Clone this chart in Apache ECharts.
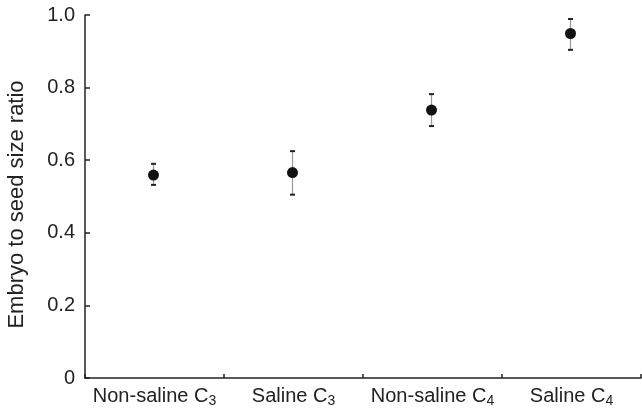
<!DOCTYPE html>
<html><head><meta charset="utf-8">
<script src="https://cdn.jsdelivr.net/npm/echarts@6/dist/echarts.min.js"></script>
<style>html,body{margin:0;padding:0;background:#fff}#c{width:642px;height:413px}</style>
</head><body><div id="c"></div>
<script>
var categories = [['Non-saline C', '3'], ['Saline C', '3'], ['Non-saline C', '4'], ['Saline C', '4']];
var means = [0.559, 0.566, 0.738, 0.949];
var upper = [0.590, 0.625, 0.782, 0.989];
var lower = [0.532, 0.505, 0.694, 0.904];
var yTicks = [0, 0.2, 0.4, 0.6, 0.8, 1.0];

var catNames = categories.map(function (c) { return c[0] + c[1]; });
var subMap = {};
categories.forEach(function (c) { subMap[c[0] + c[1]] = c; });

var chart = echarts.init(document.getElementById('c'));
var font = 'Liberation Sans, Arial, sans-serif';
chart.setOption({
  animation: false,
  grid: { left: 85, right: 1, top: 15, bottom: 35, containLabel: false, outerBoundsMode: 'none' },
  xAxis: {
    type: 'category', data: catNames, boundaryGap: true,
    axisLine: { lineStyle: { color: '#222', width: 1.5 } },
    axisTick: { show: true, inside: true, length: 4, interval: 0, lineStyle: { color: '#222', width: 1.5 } },
    axisLabel: {
      margin: 6, interval: 0,
      formatter: function (v) { var c = subMap[v]; return '{m|' + c[0] + '}{s|' + c[1] + '}'; },
      rich: {
        m: { fontSize: 20, color: '#222', fontFamily: font },
        s: { fontSize: 14, color: '#222', fontFamily: font, verticalAlign: 'bottom', padding: [10, 0, 0, 0] }
      }
    }
  },
  yAxis: {
    type: 'value', min: 0, max: 1.0, interval: 0.2,
    name: 'Embryo to seed size ratio', nameLocation: 'middle', nameGap: 57, nameRotate: 90,
    nameTextStyle: { fontSize: 22, color: '#222', fontFamily: font, padding: [0, 16, 0, 0] },
    splitLine: { show: false },
    axisLine: { show: true, lineStyle: { color: '#222', width: 1.5 } },
    axisTick: { show: true, inside: true, length: 5, lineStyle: { color: '#222', width: 1.5 } },
    axisLabel: {
      margin: 10, fontSize: 20, color: '#222', fontFamily: font,
      formatter: function (v) { return yTicks.indexOf(v) >= 0 && v === 0 ? '0' : v.toFixed(1); }
    }
  },
  series: [
    {
      type: 'custom',
      data: catNames.map(function (n, i) { return [i, lower[i], upper[i]]; }),
      renderItem: function (params, api) {
        var lo = api.coord([api.value(0), api.value(1)]);
        var hi = api.coord([api.value(0), api.value(2)]);
        var x = lo[0] - 1, hw = 2.5;
        return {
          type: 'group',
          children: [
            { type: 'line', shape: { x1: x, y1: hi[1], x2: x, y2: lo[1] }, style: { stroke: '#999', lineWidth: 1.2 } },
            { type: 'line', shape: { x1: x - hw, y1: hi[1], x2: x + hw, y2: hi[1] }, style: { stroke: '#222', lineWidth: 2 } },
            { type: 'line', shape: { x1: x - hw, y1: lo[1], x2: x + hw, y2: lo[1] }, style: { stroke: '#222', lineWidth: 2 } }
          ]
        };
      },
      z: 2
    },
    {
      type: 'scatter', symbol: 'circle', symbolSize: 11,
      itemStyle: { color: '#111', opacity: 1 },
      data: means.map(function (v, i) { return [i, v]; }), z: 3,
      symbolOffset: [-1, 0]
    }
  ]
});
</script></body></html>
